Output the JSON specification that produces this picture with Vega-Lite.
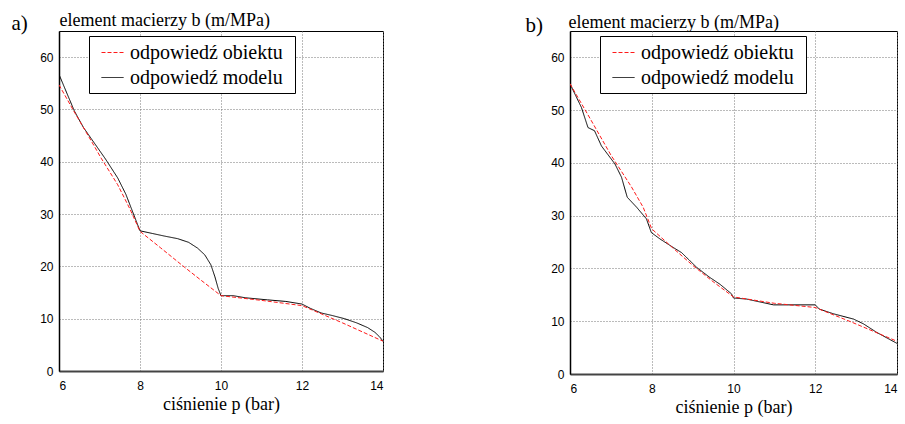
{
  "$schema": "https://vega.github.io/schema/vega-lite/v6.json",
  "background": "white",
  "padding": {"left": 10, "top": 10, "right": 0, "bottom": 0},
  "datasets": {
    "pts": [
      {"panel": "a", "series": "odpowiedź modelu", "p": 6.0, "b": 56.7},
      {"panel": "a", "series": "odpowiedź modelu", "p": 6.2, "b": 53.0},
      {"panel": "a", "series": "odpowiedź modelu", "p": 6.38, "b": 49.7},
      {"panel": "a", "series": "odpowiedź modelu", "p": 6.6, "b": 46.6},
      {"panel": "a", "series": "odpowiedź modelu", "p": 6.87, "b": 43.6},
      {"panel": "a", "series": "odpowiedź modelu", "p": 7.15, "b": 40.5},
      {"panel": "a", "series": "odpowiedź modelu", "p": 7.45, "b": 36.9},
      {"panel": "a", "series": "odpowiedź modelu", "p": 7.65, "b": 33.8},
      {"panel": "a", "series": "odpowiedź modelu", "p": 7.78, "b": 31.2},
      {"panel": "a", "series": "odpowiedź modelu", "p": 7.9, "b": 28.8},
      {"panel": "a", "series": "odpowiedź modelu", "p": 8.0, "b": 26.8},
      {"panel": "a", "series": "odpowiedź modelu", "p": 8.3, "b": 26.3},
      {"panel": "a", "series": "odpowiedź modelu", "p": 8.6, "b": 25.8},
      {"panel": "a", "series": "odpowiedź modelu", "p": 8.93, "b": 25.3},
      {"panel": "a", "series": "odpowiedź modelu", "p": 9.2, "b": 24.6},
      {"panel": "a", "series": "odpowiedź modelu", "p": 9.42, "b": 23.5},
      {"panel": "a", "series": "odpowiedź modelu", "p": 9.6, "b": 22.2},
      {"panel": "a", "series": "odpowiedź modelu", "p": 9.75, "b": 20.3},
      {"panel": "a", "series": "odpowiedź modelu", "p": 9.85, "b": 18.0},
      {"panel": "a", "series": "odpowiedź modelu", "p": 9.93, "b": 15.8},
      {"panel": "a", "series": "odpowiedź modelu", "p": 10.0, "b": 14.4},
      {"panel": "a", "series": "odpowiedź modelu", "p": 10.3, "b": 14.4},
      {"panel": "a", "series": "odpowiedź modelu", "p": 10.6, "b": 14.0},
      {"panel": "a", "series": "odpowiedź modelu", "p": 11.15, "b": 13.6},
      {"panel": "a", "series": "odpowiedź modelu", "p": 11.6, "b": 13.3},
      {"panel": "a", "series": "odpowiedź modelu", "p": 12.0, "b": 12.8},
      {"panel": "a", "series": "odpowiedź modelu", "p": 12.2, "b": 12.0},
      {"panel": "a", "series": "odpowiedź modelu", "p": 12.47, "b": 11.1},
      {"panel": "a", "series": "odpowiedź modelu", "p": 12.75, "b": 10.6},
      {"panel": "a", "series": "odpowiedź modelu", "p": 13.05, "b": 10.0},
      {"panel": "a", "series": "odpowiedź modelu", "p": 13.35, "b": 9.2},
      {"panel": "a", "series": "odpowiedź modelu", "p": 13.62, "b": 8.3},
      {"panel": "a", "series": "odpowiedź modelu", "p": 13.8, "b": 7.4},
      {"panel": "a", "series": "odpowiedź modelu", "p": 13.92, "b": 6.5},
      {"panel": "a", "series": "odpowiedź modelu", "p": 14.0, "b": 5.7},
      {"panel": "a", "series": "odpowiedź obiektu", "p": 6.0, "b": 54.7},
      {"panel": "a", "series": "odpowiedź obiektu", "p": 6.38, "b": 49.5},
      {"panel": "a", "series": "odpowiedź obiektu", "p": 6.87, "b": 43.0},
      {"panel": "a", "series": "odpowiedź obiektu", "p": 7.04, "b": 40.7},
      {"panel": "a", "series": "odpowiedź obiektu", "p": 7.45, "b": 35.6},
      {"panel": "a", "series": "odpowiedź obiektu", "p": 7.75, "b": 31.0},
      {"panel": "a", "series": "odpowiedź obiektu", "p": 8.0, "b": 26.7},
      {"panel": "a", "series": "odpowiedź obiektu", "p": 8.5, "b": 23.6},
      {"panel": "a", "series": "odpowiedź obiektu", "p": 9.09, "b": 19.9},
      {"panel": "a", "series": "odpowiedź obiektu", "p": 9.5, "b": 17.4},
      {"panel": "a", "series": "odpowiedź obiektu", "p": 10.0, "b": 14.4},
      {"panel": "a", "series": "odpowiedź obiektu", "p": 11.0, "b": 13.5},
      {"panel": "a", "series": "odpowiedź obiektu", "p": 12.0, "b": 12.5},
      {"panel": "a", "series": "odpowiedź obiektu", "p": 13.0, "b": 9.2},
      {"panel": "a", "series": "odpowiedź obiektu", "p": 14.0, "b": 5.7},
      {"panel": "b", "series": "odpowiedź modelu", "p": 6.0, "b": 55.0},
      {"panel": "b", "series": "odpowiedź modelu", "p": 6.28, "b": 50.5},
      {"panel": "b", "series": "odpowiedź modelu", "p": 6.44, "b": 46.7},
      {"panel": "b", "series": "odpowiedź modelu", "p": 6.6, "b": 46.1},
      {"panel": "b", "series": "odpowiedź modelu", "p": 6.77, "b": 43.2},
      {"panel": "b", "series": "odpowiedź modelu", "p": 7.1, "b": 39.8},
      {"panel": "b", "series": "odpowiedź modelu", "p": 7.26, "b": 37.3},
      {"panel": "b", "series": "odpowiedź modelu", "p": 7.4, "b": 33.5},
      {"panel": "b", "series": "odpowiedź modelu", "p": 7.63, "b": 31.6},
      {"panel": "b", "series": "odpowiedź modelu", "p": 7.87, "b": 29.4},
      {"panel": "b", "series": "odpowiedź modelu", "p": 7.99, "b": 26.8},
      {"panel": "b", "series": "odpowiedź modelu", "p": 8.2, "b": 25.6},
      {"panel": "b", "series": "odpowiedź modelu", "p": 8.52, "b": 24.0},
      {"panel": "b", "series": "odpowiedź modelu", "p": 8.73, "b": 23.0},
      {"panel": "b", "series": "odpowiedź modelu", "p": 9.1, "b": 20.2},
      {"panel": "b", "series": "odpowiedź modelu", "p": 9.42, "b": 18.3},
      {"panel": "b", "series": "odpowiedź modelu", "p": 9.67, "b": 17.0},
      {"panel": "b", "series": "odpowiedź modelu", "p": 9.95, "b": 15.2},
      {"panel": "b", "series": "odpowiedź modelu", "p": 10.0, "b": 14.4},
      {"panel": "b", "series": "odpowiedź modelu", "p": 10.32, "b": 14.2},
      {"panel": "b", "series": "odpowiedź modelu", "p": 10.98, "b": 13.1},
      {"panel": "b", "series": "odpowiedź modelu", "p": 12.0, "b": 13.1},
      {"panel": "b", "series": "odpowiedź modelu", "p": 12.1, "b": 12.3},
      {"panel": "b", "series": "odpowiedź modelu", "p": 12.45, "b": 11.4},
      {"panel": "b", "series": "odpowiedź modelu", "p": 12.94, "b": 10.4},
      {"panel": "b", "series": "odpowiedź modelu", "p": 13.18, "b": 9.5},
      {"panel": "b", "series": "odpowiedź modelu", "p": 13.5, "b": 7.9},
      {"panel": "b", "series": "odpowiedź modelu", "p": 14.0, "b": 5.8},
      {"panel": "b", "series": "odpowiedź obiektu", "p": 6.0, "b": 55.0},
      {"panel": "b", "series": "odpowiedź obiektu", "p": 6.5, "b": 48.3},
      {"panel": "b", "series": "odpowiedź obiektu", "p": 7.0, "b": 41.5},
      {"panel": "b", "series": "odpowiedź obiektu", "p": 7.5, "b": 35.5},
      {"panel": "b", "series": "odpowiedź obiektu", "p": 7.79, "b": 31.6},
      {"panel": "b", "series": "odpowiedź obiektu", "p": 8.0, "b": 27.5},
      {"panel": "b", "series": "odpowiedź obiektu", "p": 8.5, "b": 24.0},
      {"panel": "b", "series": "odpowiedź obiektu", "p": 9.0, "b": 20.6},
      {"panel": "b", "series": "odpowiedź obiektu", "p": 9.5, "b": 17.5},
      {"panel": "b", "series": "odpowiedź obiektu", "p": 10.0, "b": 14.6},
      {"panel": "b", "series": "odpowiedź obiektu", "p": 11.0, "b": 13.4},
      {"panel": "b", "series": "odpowiedź obiektu", "p": 12.0, "b": 12.6},
      {"panel": "b", "series": "odpowiedź obiektu", "p": 12.9, "b": 9.8},
      {"panel": "b", "series": "odpowiedź obiektu", "p": 14.0, "b": 6.2}
    ]
  },
  "data": {"name": "pts"},
  "spacing": 140,
  "hconcat": [
    {
      "width": 324,
      "height": 340,
      "transform": [{"filter": "datum.panel === 'a'"}],
      "layer": [
        {
          "mark": {"type": "line", "strokeWidth": 1, "clip": true},
          "encoding": {
            "x": {"field": "p", "type": "quantitative", "scale": {"domain": [6, 14], "nice": false, "zero": false},
                  "axis": {"values": [6, 8, 10, 12, 14], "title": "ciśnienie p (bar)", "titleFont": "Liberation Serif", "titleFontSize": 18,
                           "domain": true, "domainColor": "#444444", "domainWidth": 2}},
            "y": {"field": "b", "type": "quantitative", "scale": {"domain": [0, 65], "nice": false},
                  "axis": {"values": [0, 10, 20, 30, 40, 50, 60], "title": "element macierzy b (m/MPa)", "titleFont": "Liberation Serif", "titleX": 0, "titleY": -6,
                           "domain": true, "domainColor": "#000000", "domainWidth": 1.5}},
            "color": {"field": "series", "type": "nominal", "sort": ["odpowiedź obiektu", "odpowiedź modelu"],
                      "scale": {"domain": ["odpowiedź obiektu", "odpowiedź modelu"], "range": ["#ff1a1a", "#000000"]},
                      "legend": {"title": " "}},
            "strokeDash": {"field": "series", "type": "nominal", "sort": ["odpowiedź obiektu", "odpowiedź modelu"],
                      "scale": {"domain": ["odpowiedź obiektu", "odpowiedź modelu"], "range": [[4, 2], [1, 0]]},
                      "legend": {"title": " "}}
          }
        },
        {
          "mark": {"type": "line", "opacity": 0},
          "encoding": {
            "x": {"field": "p", "type": "quantitative",
                  "axis": {"orient": "top", "labels": false, "grid": false, "ticks": false, "domain": false,
                           "title": "a)", "titleFont": "Liberation Serif", "titleX": -48, "titleY": -2, "titleFontSize": 21, "titleAlign": "left", "titleBaseline": "alphabetic"}},
            "y": {"field": "b", "type": "quantitative",
                  "axis": {"values": [0, 10, 20, 30, 40, 50, 60], "title": "element macierzy b (m/MPa)", "titleFont": "Liberation Serif", "titleX": 0, "titleY": -6,
                           "domain": true, "domainColor": "#000000", "domainWidth": 1.5}}
          }
        }
      ],
      "resolve": {"axis": {"x": "independent"}}
    },
    {
      "width": 327,
      "height": 343,
      "transform": [{"filter": "datum.panel === 'b'"}],
      "layer": [
        {
          "mark": {"type": "line", "strokeWidth": 1, "clip": true},
          "encoding": {
            "x": {"field": "p", "type": "quantitative", "scale": {"domain": [6, 14], "nice": false, "zero": false},
                  "axis": {"values": [6, 8, 10, 12, 14], "title": "ciśnienie p (bar)", "titleFont": "Liberation Serif", "titleFontSize": 18,
                           "domain": true, "domainColor": "#444444", "domainWidth": 2}},
            "y": {"field": "b", "type": "quantitative", "scale": {"domain": [0, 65], "nice": false},
                  "axis": {"values": [0, 10, 20, 30, 40, 50, 60], "title": "element macierzy b (m/MPa)", "titleFont": "Liberation Serif", "titleX": -2, "titleY": -4,
                           "domain": true, "domainColor": "#000000", "domainWidth": 1.5}},
            "color": {"field": "series", "type": "nominal", "sort": ["odpowiedź obiektu", "odpowiedź modelu"],
                      "scale": {"domain": ["odpowiedź obiektu", "odpowiedź modelu"], "range": ["#ff1a1a", "#000000"]},
                      "legend": {"title": " "}},
            "strokeDash": {"field": "series", "type": "nominal", "sort": ["odpowiedź obiektu", "odpowiedź modelu"],
                      "scale": {"domain": ["odpowiedź obiektu", "odpowiedź modelu"], "range": [[4, 2], [1, 0]]},
                      "legend": {"title": " "}}
          }
        },
        {
          "mark": {"type": "line", "opacity": 0},
          "encoding": {
            "x": {"field": "p", "type": "quantitative",
                  "axis": {"orient": "top", "labels": false, "grid": false, "ticks": false, "domain": false,
                           "title": "b)", "titleFont": "Liberation Serif", "titleX": -45, "titleY": 0, "titleFontSize": 21, "titleAlign": "left", "titleBaseline": "alphabetic"}},
            "y": {"field": "b", "type": "quantitative",
                  "axis": {"values": [0, 10, 20, 30, 40, 50, 60], "title": "element macierzy b (m/MPa)", "titleFont": "Liberation Serif", "titleX": -2, "titleY": -4,
                           "domain": true, "domainColor": "#000000", "domainWidth": 1.5}}
          }
        }
      ],
      "resolve": {"axis": {"x": "independent"}}
    }
  ],
  "resolve": {
    "scale": {"x": "independent", "y": "independent", "color": "independent", "strokeDash": "independent"},
    "legend": {"color": "independent", "strokeDash": "independent"}
  },
  "config": {
    "view": {"stroke": "#000000", "strokeWidth": 1},
    "axis": {
      "labelFont": "Liberation Sans", "labelFontSize": 12, "labelColor": "#000000",
      "titleFont": "Liberation Serif", "titleFontWeight": "normal", "titleColor": "#000000",
      "grid": true, "gridColor": "#777777", "gridDash": [1, 2], "gridWidth": 1,
      "ticks": false, "domain": false
    },
    "axisX": {"labelPadding": 9, "titleFontSize": 18, "titlePadding": 4},
    "axisY": {"labelPadding": 6, "titleFontSize": 18, "titleAngle": 0, "titleAlign": "left", "titleBaseline": "alphabetic"},
    "legend": {
      "orient": "none", "legendX": 30, "legendY": 5,
      "strokeColor": "#000000", "fillColor": "#ffffff", "padding": 5,
      "labelFont": "Liberation Serif", "labelFontSize": 20, "labelColor": "#000000", "labelLimit": 400,
      "symbolType": "stroke", "symbolSize": 484, "symbolStrokeWidth": 1, "symbolOffset": 7,
      "labelOffset": 6, "rowPadding": 3,
      "titleOrient": "right", "titleFontSize": 20, "titlePadding": 7, "titleFont": "Liberation Serif"
    }
  }
}
